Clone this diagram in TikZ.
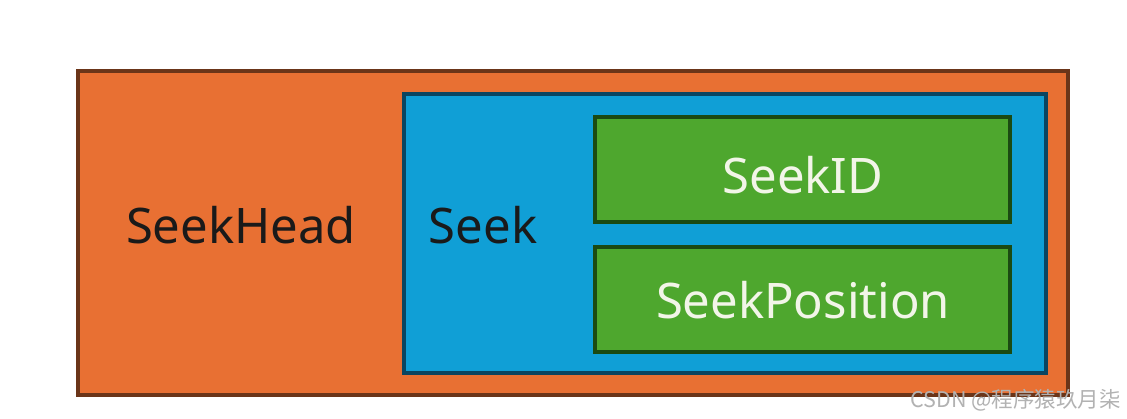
\documentclass[tikz,border=0pt]{standalone}
\usepackage{fontspec}
\setmainfont{Noto Sans}
\newfontfamily\cjk{Noto Sans CJK SC}
\definecolor{orangefill}{HTML}{E87033}
\definecolor{orangeline}{HTML}{6B3519}
\definecolor{bluefill}{HTML}{109FD6}
\definecolor{blueline}{HTML}{0B4560}
\definecolor{greenfill}{HTML}{4EA72E}
\definecolor{greenline}{HTML}{1B4A12}
\definecolor{darktext}{HTML}{1A1A1A}
\definecolor{lighttext}{HTML}{F2F5E8}
\begin{document}
\begin{tikzpicture}[x=1pt,y=-1pt,
  box/.style={line width=4pt},
  bigtext/.style={font=\fontsize{49}{55}\selectfont, inner sep=0pt},
  ]
\useasboundingbox (0,0) rectangle (1127,419);
\fill[white] (0,0) rectangle (1127,419);
\draw[box, draw=orangeline, fill=orangefill] (78,71) rectangle (1068,395);
\draw[box, draw=blueline, fill=bluefill] (404,94) rectangle (1046,373);
\draw[box, draw=greenline, fill=greenfill] (595,117) rectangle (1010,222);
\draw[box, draw=greenline, fill=greenfill] (595,247) rectangle (1010,352);
\node[bigtext, text=darktext] (head) at (241,225) {SeekHead};
\node[bigtext, text=darktext] (seek) at (483,225) {Seek};
\node[bigtext, text=lighttext] (sid) at (803,175) {SeekID};
\node[bigtext, text=lighttext] (spos) at (803,300) {SeekPosition};
\node[font=\cjk\fontsize{21.5}{23}\selectfont, text=gray!60, inner sep=0pt, anchor=east] (wm) at (1121,400) {CSDN @程序猿玖月柒};
\end{tikzpicture}
\end{document}
